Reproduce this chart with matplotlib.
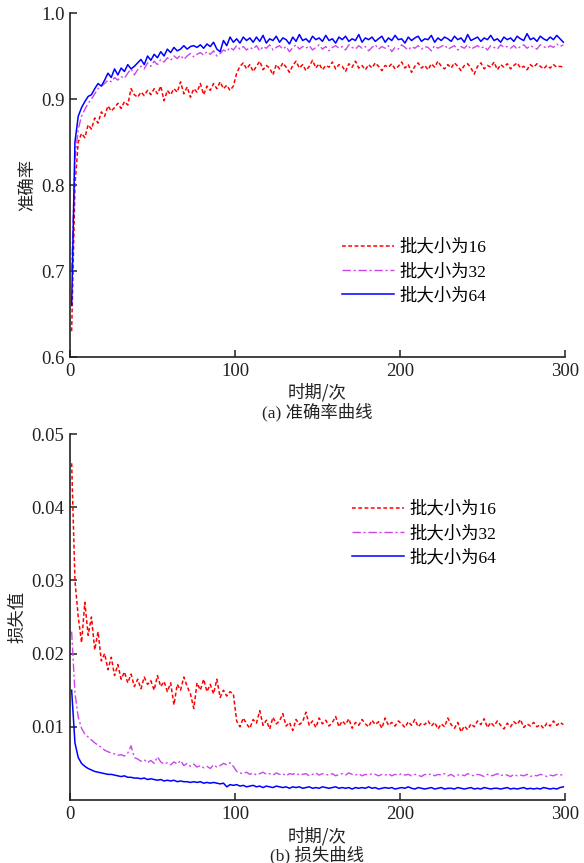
import numpy as np
import matplotlib
matplotlib.use("Agg")
import matplotlib.pyplot as plt

plt.rcParams['font.family'] = ['Liberation Serif', 'Noto Sans CJK SC', 'DejaVu Sans']

# epochs sampled every 2 epochs
epochs = np.arange(1, 301, 2)

labels = ['批大小为16', '批大小为32', '批大小为64']

acc16 = [0.630, 0.800, 0.850, 0.860, 0.855,
         0.870, 0.865, 0.878, 0.872, 0.885,
         0.880, 0.892, 0.886, 0.890, 0.895,
         0.889, 0.897, 0.893, 0.912, 0.905,
         0.902, 0.908, 0.904, 0.910, 0.905,
         0.912, 0.906, 0.915, 0.898, 0.910,
         0.905, 0.912, 0.908, 0.920, 0.906,
         0.914, 0.902, 0.912, 0.908, 0.918,
         0.905, 0.915, 0.910, 0.918, 0.912,
         0.920, 0.912, 0.916, 0.910, 0.915,
         0.930, 0.938, 0.942, 0.935, 0.940, 0.932, 0.938, 0.944, 0.934, 0.939,
         0.936, 0.928, 0.940, 0.935, 0.942, 0.937, 0.931, 0.939, 0.944, 0.936,
         0.940, 0.933, 0.938, 0.945, 0.936, 0.941, 0.934, 0.939, 0.937, 0.943,
         0.935, 0.940, 0.938, 0.932, 0.941, 0.937, 0.944, 0.936, 0.939, 0.934,
         0.940, 0.936, 0.942, 0.938, 0.933, 0.939, 0.937, 0.941, 0.935, 0.938,
         0.943, 0.936, 0.940, 0.931, 0.938, 0.942, 0.936, 0.939, 0.934, 0.941,
         0.937, 0.944, 0.938, 0.935, 0.940, 0.936, 0.942, 0.938, 0.933, 0.939,
         0.941, 0.936, 0.929, 0.938, 0.942, 0.935, 0.939, 0.937, 0.943, 0.934,
         0.940, 0.937, 0.941, 0.935, 0.939, 0.942, 0.936, 0.938, 0.934, 0.940,
         0.937, 0.941, 0.938, 0.935, 0.939, 0.936, 0.940, 0.937, 0.938, 0.937]

acc32 = [0.700, 0.830, 0.865, 0.880, 0.888,
         0.895, 0.900, 0.906, 0.912, 0.915,
         0.918, 0.922, 0.920, 0.925, 0.922,
         0.926, 0.924, 0.930, 0.935, 0.928,
         0.934, 0.938, 0.935, 0.942, 0.938,
         0.944, 0.940, 0.946, 0.943, 0.948,
         0.945, 0.950, 0.947, 0.951, 0.946,
         0.950, 0.953, 0.949, 0.952, 0.954,
         0.951, 0.955, 0.952, 0.956, 0.950,
         0.953, 0.957, 0.955, 0.960, 0.957,
         0.962, 0.958, 0.961, 0.957, 0.960,
         0.958, 0.962, 0.956, 0.961, 0.959, 0.963, 0.957, 0.960, 0.962, 0.958,
         0.961, 0.955, 0.960, 0.963, 0.958, 0.961, 0.959, 0.962, 0.957, 0.960,
         0.963, 0.958, 0.961, 0.956, 0.960, 0.962, 0.959, 0.961, 0.957, 0.963,
         0.960, 0.958, 0.962, 0.959, 0.961, 0.956, 0.960, 0.963, 0.958, 0.961,
         0.959, 0.962, 0.955, 0.960, 0.958, 0.963, 0.960, 0.957, 0.961, 0.959,
         0.962, 0.958, 0.961, 0.960, 0.956, 0.962, 0.959, 0.961, 0.963, 0.958,
         0.960, 0.962, 0.957, 0.961, 0.959, 0.963, 0.958, 0.960, 0.962, 0.959,
         0.961, 0.957, 0.962, 0.960, 0.958, 0.963, 0.960, 0.961, 0.959, 0.962,
         0.958, 0.961, 0.963, 0.959, 0.962, 0.960, 0.958, 0.963, 0.961, 0.959,
         0.962, 0.960, 0.964, 0.961, 0.963]

acc64 = [0.660, 0.850, 0.880, 0.890, 0.897,
         0.903, 0.905, 0.912, 0.918, 0.915,
         0.922, 0.930, 0.925, 0.935, 0.928,
         0.936, 0.932, 0.940, 0.935, 0.938,
         0.942, 0.946, 0.940, 0.950, 0.945,
         0.952, 0.948, 0.955, 0.950, 0.958,
         0.954, 0.960, 0.956, 0.958, 0.962,
         0.958, 0.961, 0.962, 0.960, 0.963,
         0.959, 0.964, 0.961, 0.966, 0.958,
         0.955, 0.968, 0.962, 0.972, 0.966,
         0.970, 0.965, 0.972, 0.968, 0.971,
         0.966, 0.972, 0.967, 0.974, 0.965, 0.970, 0.968, 0.973, 0.966, 0.971,
         0.969, 0.964, 0.972, 0.967, 0.975, 0.968, 0.970, 0.966, 0.973, 0.969,
         0.971, 0.967, 0.974, 0.968, 0.970, 0.965, 0.972, 0.969, 0.973, 0.967,
         0.970, 0.968, 0.975, 0.966, 0.971, 0.969, 0.972, 0.967, 0.970, 0.973,
         0.966, 0.971, 0.968, 0.974, 0.969, 0.970, 0.965, 0.972, 0.968, 0.971,
         0.973, 0.967, 0.970, 0.969, 0.974, 0.966, 0.971, 0.968, 0.972, 0.970,
         0.967, 0.973, 0.969, 0.971, 0.966, 0.975, 0.968, 0.970, 0.972, 0.967,
         0.971, 0.969, 0.974, 0.968, 0.970, 0.966, 0.972, 0.969, 0.971, 0.967,
         0.973, 0.970, 0.968, 0.976, 0.969, 0.971, 0.967, 0.973, 0.970, 0.968,
         0.972, 0.969, 0.974, 0.970, 0.966]

loss16 = [0.0460, 0.0300, 0.0250, 0.0215, 0.0270,
          0.0225, 0.0250, 0.0205, 0.0230, 0.0190,
          0.0200, 0.0178, 0.0195, 0.0170, 0.0185,
          0.0165, 0.0175, 0.0160, 0.0172, 0.0155,
          0.0165, 0.0152, 0.0168, 0.0158, 0.0163,
          0.0150, 0.0170, 0.0155, 0.0162, 0.0148,
          0.0160, 0.0130, 0.0158, 0.0150, 0.0168,
          0.0155, 0.0145, 0.0125, 0.0160, 0.0150,
          0.0165, 0.0148, 0.0158, 0.0145, 0.0165,
          0.0140, 0.0150, 0.0142, 0.0148, 0.0145,
          0.0108, 0.0100, 0.0112, 0.0104, 0.0098, 0.0110, 0.0105, 0.0122, 0.0102, 0.0109,
          0.0097, 0.0113, 0.0104, 0.0108, 0.0118, 0.0101, 0.0106, 0.0095, 0.0110, 0.0103,
          0.0107, 0.0120, 0.0102, 0.0108, 0.0099, 0.0112, 0.0104, 0.0109, 0.0101, 0.0106,
          0.0114, 0.0100, 0.0108, 0.0103, 0.0111, 0.0098, 0.0106, 0.0102, 0.0110, 0.0104,
          0.0100, 0.0109, 0.0103, 0.0107, 0.0098, 0.0112, 0.0102, 0.0106, 0.0101, 0.0108,
          0.0104, 0.0099, 0.0107, 0.0102, 0.0110, 0.0100, 0.0105, 0.0103, 0.0108, 0.0101,
          0.0106, 0.0097, 0.0104, 0.0100, 0.0112, 0.0103, 0.0098, 0.0106, 0.0093, 0.0101,
          0.0096, 0.0104, 0.0100, 0.0108, 0.0103, 0.0111, 0.0099, 0.0106, 0.0101, 0.0108,
          0.0102, 0.0097, 0.0105, 0.0100, 0.0107, 0.0103, 0.0110, 0.0099, 0.0104, 0.0101,
          0.0106, 0.0100, 0.0103, 0.0098, 0.0105, 0.0101, 0.0108, 0.0102, 0.0106, 0.0103]

loss32 = [0.0230, 0.0146, 0.0113, 0.0098, 0.0090,
          0.0086, 0.0082, 0.0078, 0.0075, 0.0072,
          0.0068, 0.0066, 0.0064, 0.0063, 0.0061,
          0.0062, 0.0060, 0.0064, 0.0074, 0.0058,
          0.0056, 0.0053, 0.0055, 0.0051, 0.0054,
          0.0050, 0.0059, 0.0052, 0.0049, 0.0051,
          0.0048, 0.0052, 0.0049, 0.0054, 0.0047,
          0.0050, 0.0046, 0.0049, 0.0045, 0.0047,
          0.0044, 0.0046, 0.0043, 0.0048, 0.0045,
          0.0047, 0.0050, 0.0048, 0.0051, 0.0046,
          0.0039, 0.0037, 0.0036, 0.0038, 0.0035, 0.0037, 0.0034, 0.0036, 0.0038, 0.0035,
          0.0036, 0.0034, 0.0037, 0.0035, 0.0036, 0.0033, 0.0036, 0.0035, 0.0037, 0.0034,
          0.0035, 0.0036, 0.0033, 0.0035, 0.0037, 0.0034, 0.0036, 0.0035, 0.0034, 0.0036,
          0.0033, 0.0035, 0.0036, 0.0034, 0.0037, 0.0035, 0.0034, 0.0036, 0.0033, 0.0035,
          0.0034, 0.0036, 0.0035, 0.0033, 0.0035, 0.0034, 0.0036, 0.0033, 0.0035, 0.0034,
          0.0036, 0.0034, 0.0035, 0.0033, 0.0035, 0.0034, 0.0032, 0.0035, 0.0034, 0.0036,
          0.0033, 0.0035, 0.0034, 0.0036, 0.0033, 0.0035, 0.0032, 0.0034, 0.0035, 0.0033,
          0.0036, 0.0034, 0.0033, 0.0035, 0.0034, 0.0032, 0.0035, 0.0033, 0.0034, 0.0036,
          0.0033, 0.0035, 0.0034, 0.0032, 0.0035, 0.0033, 0.0034, 0.0033, 0.0035, 0.0032,
          0.0034, 0.0033, 0.0035, 0.0034, 0.0032, 0.0034, 0.0033, 0.0035, 0.0034, 0.0035]

loss64 = [0.0150, 0.0078, 0.0058, 0.0050, 0.0046,
          0.0043, 0.0041, 0.0039, 0.0038, 0.0037,
          0.0036, 0.0035, 0.0035, 0.0034, 0.0033,
          0.0032, 0.0033, 0.0031, 0.0031, 0.0030,
          0.0030, 0.0029, 0.0030, 0.0028, 0.0029,
          0.0028, 0.0027, 0.0028, 0.0026, 0.0027,
          0.0026, 0.0027, 0.0025, 0.0026, 0.0025,
          0.0025, 0.0024, 0.0025, 0.0024, 0.0025,
          0.0023, 0.0024, 0.0023, 0.0024, 0.0023,
          0.0022, 0.0023, 0.0018, 0.0021, 0.0020,
          0.0021, 0.0019, 0.0020, 0.0018, 0.0019, 0.0020, 0.0018, 0.0019, 0.0017, 0.0019,
          0.0018, 0.0017, 0.0019, 0.0018, 0.0017, 0.0018, 0.0016, 0.0018, 0.0017, 0.0018,
          0.0016, 0.0017, 0.0018, 0.0016, 0.0017, 0.0016, 0.0018, 0.0017, 0.0016, 0.0017,
          0.0018, 0.0016, 0.0017, 0.0016, 0.0017, 0.0015, 0.0017, 0.0016, 0.0017, 0.0016,
          0.0018, 0.0016, 0.0017, 0.0015, 0.0016, 0.0017, 0.0016, 0.0017, 0.0015, 0.0016,
          0.0017, 0.0016, 0.0018, 0.0016, 0.0015, 0.0017, 0.0016, 0.0015, 0.0016, 0.0017,
          0.0015, 0.0016, 0.0017, 0.0015, 0.0016, 0.0016, 0.0015, 0.0017, 0.0016, 0.0015,
          0.0016, 0.0017, 0.0015, 0.0016, 0.0015, 0.0017, 0.0016, 0.0015, 0.0016, 0.0016,
          0.0015, 0.0016, 0.0017, 0.0015, 0.0016, 0.0015, 0.0016, 0.0017, 0.0015, 0.0016,
          0.0015, 0.0016, 0.0015, 0.0017, 0.0016, 0.0015, 0.0016, 0.0015, 0.0017, 0.0018]

xticks = [0, 100, 200, 300]
acc_yticks = [0.6, 0.7, 0.8, 0.9, 1.0]
loss_yticks = [0.01, 0.02, 0.03, 0.04, 0.05]

RED = '#FF0000'
MAG = '#CC44EE'
BLUE = '#0000FF'
styles = [dict(color=RED, lw=1.1, ls=(0, (2.5, 1.6))),
          dict(color=MAG, lw=1.0, ls=(0, (6, 2, 1.5, 2))),
          dict(color=BLUE, lw=1.1, ls='-')]

W, H = 584, 863
fig = plt.figure(figsize=(W / 100, H / 100), dpi=100)
ax1 = fig.add_axes([70 / W, 1 - 357 / H, 495 / W, 344 / H])
ax2 = fig.add_axes([70 / W, 1 - 800 / H, 495 / W, 366 / H])

TICKFS = 13.5
CJK = 'Noto Sans CJK SC'
TXT = '#222222'
for ax in (ax1, ax2):
    for s in ('top', 'right'):
        ax.spines[s].set_visible(False)
    for s in ('left', 'bottom'):
        ax.spines[s].set_linewidth(1.2)
        ax.spines[s].set_color(TXT)
    ax.tick_params(direction='in', length=5, width=1.1, labelsize=TICKFS,
                   colors=TXT, pad=4)
    ax.set_xlim(0, 300)
    ax.set_xticks(xticks)
    ax.set_xticklabels([str(t) for t in xticks])

for vals, lab, st in zip([acc16, acc32, acc64], labels, styles):
    ax1.plot(epochs, vals, label=lab, **st)
ax1.set_ylim(0.6, 1.0)
ax1.set_yticks(acc_yticks)
ax1.set_yticklabels([f'{t:.1f}' for t in acc_yticks])
ax1.set_ylabel('准确率', fontsize=12.5, family=CJK, color=TXT)
ax1.yaxis.set_label_coords((37 - 70) / 495, 0.5)

for vals, lab, st in zip([loss16, loss32, loss64], labels, styles):
    ax2.plot(epochs, vals, label=lab, **st)
ax2.set_ylim(0, 0.05)
ax2.set_yticks(loss_yticks)
ax2.set_yticklabels([f'{t:.2f}' for t in loss_yticks])
ax2.set_ylabel('损失值', fontsize=12.5, family=CJK, color=TXT)
ax2.yaxis.set_label_coords((26 - 70) / 495, 0.5)

leg_kw = dict(frameon=False, fontsize=12.5, handlelength=3.0, handletextpad=0.3,
              labelspacing=0.45, borderaxespad=0, borderpad=0)
ax1.legend(loc='upper left', bbox_to_anchor=(342 / W, 1 - 239 / H),
           bbox_transform=fig.transFigure, **leg_kw)
ax2.legend(loc='upper left', bbox_to_anchor=(352 / W, 1 - 501 / H),
           bbox_transform=fig.transFigure, **leg_kw)

# x-axis titles and panel captions
fig.text(317 / W, 1 - 392 / H, '时期/次', ha='center', va='center',
         fontsize=12.5, family=CJK, color=TXT)
fig.text(317 / W, 1 - 412 / H, '(a) 准确率曲线', ha='center', va='center',
         fontsize=12.5, color=TXT)
fig.text(317 / W, 1 - 836 / H, '时期/次', ha='center', va='center',
         fontsize=12.5, family=CJK, color=TXT)
fig.text(317 / W, 1 - 855 / H, '(b) 损失曲线', ha='center', va='center',
         fontsize=12.5, color=TXT)

fig.savefig('out.png', dpi=100, facecolor='white')
